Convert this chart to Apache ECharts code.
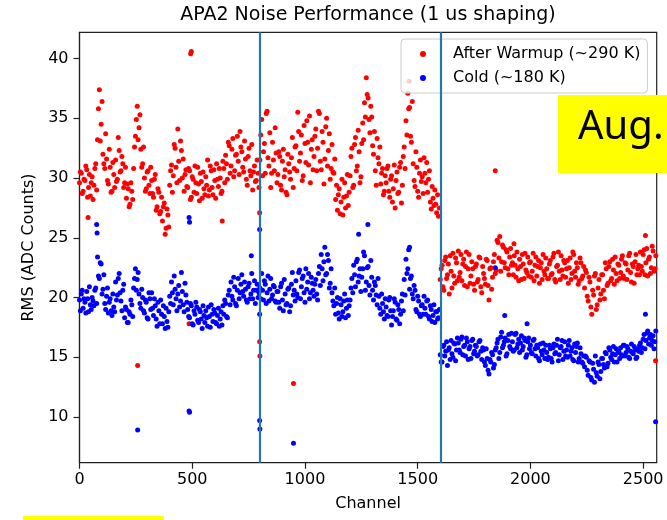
<!DOCTYPE html>
<html>
<head>
<meta charset="utf-8">
<script src="https://cdn.jsdelivr.net/npm/echarts@6/dist/echarts.min.js"></script>
<style>
  html, body { margin: 0; padding: 0; background: #fff; }
  #chart { width: 667px; height: 520px; }
</style>
</head>
<body>
<div id="chart"></div>
<script>
// channel spacing of the sampled readings below (A set starts at ch 0, B set at ch 4)
var channelStep = 8;

// After Warmup (~290 K), 10 values per line = 80 channels
var warmRmsA = [
  29.6, 30.4, 28.9, 29.8, 30.7, 29.2, 28.5, 30.1, 29.4, 31.2,
  33.2, 37.4, 34.5, 32.0, 30.8, 31.6, 29.5, 30.9, 28.9, 30.3,
  31.5, 29.9, 32.3, 30.6, 31.2, 29.6, 28.3, 29.1, 27.8, 28.9,
  30.8, 33.5, 36.0, 34.2, 32.4, 31.2, 30.0, 29.1, 30.6, 28.7,
  29.8, 28.4, 30.3, 27.6, 28.8, 27.2, 26.4, 27.9, 25.8, 26.9,
  29.4, 31.1, 30.2, 32.5, 29.6, 31.4, 33.1, 30.0, 28.9, 30.7,
  29.2, 30.6, 28.4, 29.9, 31.0, 28.7, 29.5, 30.4, 28.3, 29.1,
  30.1, 31.5, 29.0, 30.6, 28.6, 29.8, 31.2, 29.3, 30.0, 28.9,
  30.8, 31.9, 29.9, 32.7, 31.0, 33.3, 30.6, 32.0, 31.4, 33.9,
  32.2, 30.5, 31.6, 29.4, 32.5, 30.2, 29.0, 31.0, 29.8, 30.4,
  31.5, 34.9, 32.2, 30.4, 35.6, 31.0, 29.2, 33.0, 30.6, 32.1,
  30.3, 31.8, 29.0, 32.4, 30.7, 28.6, 31.2, 29.9, 33.4, 30.8,
  32.7, 35.5, 31.4, 33.6, 30.2, 32.9, 34.8, 31.1, 29.6, 33.2,
  31.8, 34.1, 32.5, 35.4, 30.7, 33.0, 31.6, 35.0, 32.3, 29.9,
  32.8, 30.4, 28.2, 27.3, 29.1, 28.0, 26.9, 29.6, 28.5, 27.7,
  30.2, 32.5, 29.4, 33.4, 31.0, 32.2, 30.1, 34.6, 36.3, 38.4,
  36.7, 33.8, 35.1, 32.0, 30.6, 33.3, 31.2, 29.5, 30.8, 28.9,
  29.6, 31.0, 28.4, 30.2, 29.1, 27.5, 30.5, 28.8, 31.3, 29.4,
  32.6, 34.8, 37.1, 35.9, 33.0, 31.2, 29.3, 30.9, 28.4, 31.5,
  30.1, 31.7, 29.6, 28.8, 30.6, 27.4, 28.3, 29.0, 27.1, 26.8,
  21.5, 22.7, 20.6, 23.4, 21.9, 20.3, 22.2, 23.7, 21.2, 22.9,
  23.9, 22.1, 21.4, 23.2, 22.6, 20.9, 23.6, 21.8, 22.4, 20.6,
  22.8, 21.5, 23.3, 20.4, 22.0, 21.1, 23.1, 19.8, 22.5, 21.7,
  23.6, 22.3, 24.6, 25.1, 23.0, 24.2, 22.5, 23.8, 21.9, 24.1,
  22.9, 23.5, 21.7, 22.4, 23.2, 21.5, 22.8, 23.7, 22.1, 21.8,
  23.0, 22.2, 21.4, 23.4, 22.6, 21.2, 22.9, 23.6, 21.9, 22.4,
  21.6, 23.1, 22.0, 23.7, 21.3, 22.7, 22.2, 23.5, 21.8, 22.9,
  22.4, 21.2, 23.3, 22.0, 23.6, 21.7, 22.5, 21.4, 22.9, 21.8,
  20.8, 22.1, 19.7, 21.3, 18.6, 20.2, 22.0, 19.4, 21.5, 20.3,
  21.9, 19.9, 22.4, 21.2, 23.0, 21.6, 22.3, 23.4, 21.4, 22.7,
  22.1, 23.5, 21.6, 22.8, 22.3, 23.7, 21.3, 22.6, 23.0, 21.9,
  22.7, 23.8, 22.2, 24.0, 22.9, 21.8, 23.4, 22.5, 23.9, 22.4
];
var warmRmsB = [
  30.5, 28.7, 29.9, 31.0, 28.4, 30.3, 29.6, 28.2, 30.8, 29.0,
  35.8, 33.1, 36.4, 31.2, 33.7, 29.8, 32.4, 28.8, 31.3, 29.2,
  29.7, 33.4, 30.5, 31.8, 29.2, 30.9, 29.5, 27.6, 29.6, 28.2,
  32.6, 34.9, 33.2, 35.3, 30.9, 32.6, 28.9, 30.5, 29.4, 30.9,
  28.7, 29.9, 27.3, 29.1, 27.0, 28.4, 27.6, 25.3, 27.4, 25.9,
  30.6, 28.8, 32.8, 30.9, 34.1, 29.8, 32.3, 31.6, 30.3, 29.3,
  30.8, 28.2, 30.1, 28.8, 29.6, 30.9, 28.1, 29.7, 30.5, 28.6,
  29.4, 28.5, 31.0, 29.2, 30.7, 28.3, 29.9, 30.8, 28.7, 31.4,
  29.6, 31.2, 33.0, 30.4, 32.4, 30.1, 31.9, 33.5, 30.3, 32.6,
  30.9, 33.1, 29.9, 31.8, 30.6, 32.8, 30.5, 29.7, 31.5, 29.2,
  33.6, 30.2, 32.9, 35.4, 31.7, 33.8, 30.4, 31.5, 34.2, 29.6,
  32.2, 29.4, 31.4, 30.1, 28.8, 32.0, 30.5, 31.7, 29.2, 32.6,
  30.6, 33.9, 32.1, 29.8, 34.4, 31.3, 33.0, 35.2, 32.4, 30.7,
  33.5, 30.6, 35.6, 31.4, 33.9, 29.5, 34.3, 31.0, 33.7, 30.8,
  30.5, 31.6, 29.4, 28.6, 27.0, 29.9, 28.4, 27.5, 30.3, 28.8,
  31.8, 29.2, 32.8, 30.6, 34.0, 29.6, 32.9, 33.2, 35.1, 37.0,
  34.9, 36.0, 32.7, 33.9, 29.4, 31.7, 32.6, 30.4, 28.6, 30.2,
  30.8, 28.9, 29.9, 28.0, 31.1, 29.8, 28.7, 30.9, 27.9, 31.8,
  30.8, 33.6, 35.8, 33.5, 36.4, 29.8, 32.2, 28.9, 30.4, 29.7,
  28.7, 30.4, 31.3, 29.9, 28.0, 29.3, 27.7, 27.8, 28.6, 27.5,
  22.4, 20.9, 23.1, 21.6, 22.8, 23.5, 20.8, 21.8, 23.3, 21.4,
  21.7, 23.6, 22.8, 21.0, 23.8, 22.4, 21.2, 23.0, 21.1, 22.6,
  21.3, 23.4, 20.9, 22.6, 21.6, 23.2, 21.0, 22.4, 20.7, 23.0,
  22.0, 24.8, 23.3, 22.2, 24.4, 22.9, 24.0, 22.4, 23.4, 22.7,
  21.9, 22.7, 23.8, 21.4, 22.6, 23.6, 21.6, 22.3, 23.4, 22.9,
  21.7, 23.7, 22.7, 21.8, 23.1, 22.5, 21.5, 22.2, 23.3, 21.6,
  22.8, 21.9, 23.4, 21.5, 22.6, 23.8, 21.5, 22.3, 23.1, 21.7,
  23.1, 22.5, 21.5, 23.8, 22.2, 22.9, 21.1, 23.3, 21.6, 22.6,
  22.3, 20.1, 21.7, 19.2, 20.6, 21.8, 19.0, 20.8, 19.8, 21.9,
  20.6, 22.9, 21.0, 22.6, 21.4, 23.2, 21.1, 22.0, 22.8, 21.6,
  23.2, 21.8, 22.9, 21.5, 23.5, 22.1, 22.8, 21.2, 23.6, 22.4,
  21.9, 22.6, 23.6, 21.9, 24.1, 23.2, 22.0, 24.3, 22.2, 23.5
];

// Cold (~180 K), same channel sampling
var coldRmsA = [
  19.8, 20.3, 19.1, 19.6, 20.5, 18.8, 19.4, 20.0, 19.3, 20.8,
  23.4, 21.6, 22.8, 20.7, 19.5, 20.1, 18.7, 19.9, 18.5, 19.2,
  21.3, 20.2, 22.0, 19.7, 20.6, 18.3, 19.0, 17.9, 18.6, 19.4,
  20.8, 22.4, 21.5, 20.3, 19.1, 20.0, 18.7, 19.6, 18.2, 19.9,
  20.4, 18.5, 19.3, 17.6, 18.9, 19.8, 17.8, 18.4, 19.1, 17.5,
  20.1, 21.3, 19.4, 20.7, 18.9, 21.0, 19.7, 20.5, 18.8, 20.2,
  19.0, 18.3, 19.3, 17.7, 18.6, 19.2, 17.9, 18.8, 17.4, 18.5,
  18.9, 17.6, 18.4, 19.4, 18.0, 18.7, 17.8, 19.1, 18.2, 17.7,
  18.6, 19.5, 18.3, 20.6, 21.3, 19.8, 20.9, 19.3, 21.6, 20.4,
  21.9, 20.1, 20.7, 19.6, 21.2, 20.3, 19.9, 21.4, 20.6, 20.0,
  20.8, 22.0, 19.8, 21.1, 20.4, 19.7, 21.6, 20.2, 20.9, 19.6,
  20.5, 19.1, 21.2, 18.9, 20.3, 19.5, 20.8, 19.3, 22.1, 20.6,
  21.4, 20.0, 22.3, 20.9, 21.8, 19.6, 20.7, 22.0, 20.4, 21.2,
  20.1, 21.5, 19.8, 22.6, 23.6, 21.4, 24.2, 22.0, 23.1, 21.2,
  20.4, 19.3, 18.6, 20.0, 18.2, 19.4, 18.8, 20.3, 19.1, 18.5,
  19.8, 21.6, 22.7, 20.9, 23.2, 21.8, 20.5, 22.4, 23.5, 21.3,
  22.6, 20.2, 21.7, 19.8, 21.0, 19.4, 20.1, 18.6, 19.5, 18.2,
  19.2, 18.4, 20.0, 17.7, 18.9, 19.6, 18.1, 19.0, 18.6, 20.3,
  21.5, 23.2, 22.4, 20.7, 21.8, 19.9, 20.6, 18.8, 19.7, 18.4,
  19.4, 20.1, 18.6, 19.8, 18.2, 19.0, 18.5, 17.9, 18.8, 18.3,
  15.2, 14.6, 16.0, 15.5, 14.3, 15.8, 16.4, 15.0, 16.1, 15.6,
  16.2, 15.4, 16.7, 15.9, 15.1, 16.3, 15.7, 14.9, 16.5, 15.5,
  15.9, 15.2, 16.4, 14.8, 15.6, 14.3, 14.9, 13.6, 14.6, 15.2,
  14.4, 15.8, 16.5, 15.4, 17.1, 16.0, 16.6, 15.3, 16.9, 15.7,
  16.3, 15.6, 17.0, 16.1, 15.4, 16.8, 15.9, 16.4, 15.2, 16.6,
  16.0, 15.3, 16.5, 15.1, 15.8, 14.7, 15.5, 16.2, 14.9, 15.4,
  15.0, 15.7, 14.6, 16.1, 15.4, 16.5, 15.2, 15.9, 14.8, 16.3,
  15.6, 16.0, 15.1, 15.8, 14.7, 15.4, 16.2, 14.9, 15.3, 14.5,
  14.2, 15.0, 13.5, 14.6, 13.1, 14.0, 15.1, 13.4, 14.4, 13.8,
  14.9, 14.1, 15.3, 14.5, 15.6, 14.8, 15.9, 15.2, 14.6, 15.5,
  15.8, 15.1, 16.0, 15.4, 15.7, 14.9, 16.1, 15.3, 15.6, 15.0,
  15.5, 16.2, 15.8, 16.9, 16.4, 17.2, 16.6, 16.0, 16.8, 16.3
];
var coldRmsB = [
  18.9, 20.6, 19.9, 18.7, 19.9, 20.9, 19.0, 19.7, 20.6, 19.5,
  21.8, 22.9, 20.3, 21.9, 19.0, 20.8, 19.6, 18.9, 20.3, 18.8,
  19.8, 21.6, 20.4, 18.9, 21.1, 19.2, 17.9, 18.8, 19.8, 18.4,
  21.6, 20.6, 22.1, 19.5, 20.7, 18.9, 19.8, 18.3, 20.4, 19.0,
  19.1, 19.9, 18.2, 19.6, 17.8, 18.6, 19.3, 17.4, 18.0, 18.8,
  19.5, 20.4, 21.8, 19.9, 20.3, 19.2, 22.1, 19.4, 21.2, 19.6,
  18.4, 19.5, 17.8, 18.9, 19.6, 18.1, 19.0, 18.2, 19.3, 17.9,
  18.3, 19.2, 17.5, 18.6, 19.0, 17.9, 18.5, 17.6, 18.8, 19.3,
  19.8, 18.4, 20.2, 19.4, 20.1, 21.7, 19.5, 20.6, 19.9, 21.1,
  20.5, 21.3, 19.8, 20.9, 19.9, 22.0, 20.6, 19.5, 21.1, 20.4,
  19.9, 20.6, 21.4, 19.5, 21.8, 20.7, 19.9, 21.0, 19.7, 20.5,
  19.6, 20.9, 19.8, 21.5, 19.4, 20.7, 18.8, 21.1, 20.2, 19.7,
  20.3, 22.1, 19.9, 21.6, 20.4, 22.4, 21.3, 19.9, 21.7, 20.6,
  21.1, 20.3, 22.0, 21.0, 22.4, 23.0, 21.9, 23.6, 20.8, 22.4,
  19.7, 20.8, 19.5, 18.7, 19.9, 18.4, 19.7, 18.3, 19.8, 19.3,
  20.8, 20.4, 21.9, 23.0, 21.3, 22.4, 21.7, 23.8, 20.6, 22.5,
  21.0, 23.1, 20.6, 21.3, 20.2, 21.6, 19.1, 20.3, 18.8, 19.9,
  18.5, 19.8, 18.9, 18.4, 19.9, 18.2, 19.4, 17.8, 19.7, 18.9,
  20.2, 22.0, 24.0, 21.6, 20.3, 21.0, 19.0, 20.1, 18.6, 19.3,
  18.6, 19.1, 19.7, 18.4, 19.3, 18.0, 19.4, 18.8, 18.2, 19.0,
  14.6, 15.9, 15.1, 16.3, 15.6, 14.8, 15.3, 16.2, 14.7, 16.6,
  15.6, 16.5, 15.2, 16.0, 16.6, 14.8, 15.9, 16.4, 15.3, 16.0,
  15.1, 16.3, 15.5, 15.8, 14.6, 15.7, 13.9, 14.8, 15.4, 14.1,
  15.6, 16.2, 14.9, 16.7, 15.8, 16.3, 15.1, 16.4, 15.9, 17.0,
  15.5, 16.9, 15.8, 16.5, 16.2, 15.6, 16.6, 15.0, 16.3, 15.7,
  15.4, 16.4, 15.7, 16.0, 14.9, 16.1, 15.2, 15.6, 16.0, 14.8,
  16.0, 14.9, 15.8, 15.3, 16.0, 14.7, 15.8, 16.4, 15.5, 15.1,
  15.0, 16.4, 15.5, 14.8, 16.1, 15.9, 14.6, 15.8, 14.6, 15.1,
  15.1, 13.9, 14.7, 13.3, 14.5, 12.9, 13.7, 14.6, 13.2, 14.9,
  14.4, 15.4, 14.2, 15.8, 15.0, 15.3, 14.6, 15.7, 15.4, 14.9,
  15.2, 16.0, 15.1, 15.9, 15.0, 15.5, 15.4, 15.9, 14.9, 15.7,
  16.0, 15.4, 16.5, 15.7, 17.0, 16.1, 16.9, 16.4, 15.7, 17.2
];

// stray channels away from the bands: [channel, rms]
var warmOutliers = [
  [38, 26.7], [258, 14.3], [486, 17.8], [493, 40.4], [496, 40.6],
  [633, 26.4], [799, 27.1], [799, 16.3], [800, 15.1], [949, 12.8],
  [1462, 38.1], [1844, 30.6], [1927, 24.5], [2510, 25.2], [2555, 14.7]
];
var coldOutliers = [
  [76, 26.1], [78, 25.4], [258, 8.9], [486, 26.7], [488, 26.3],
  [486, 10.5], [488, 10.4], [762, 23.5], [799, 25.7], [799, 18.6],
  [799, 9.7], [800, 9.0], [949, 7.8], [1238, 25.3], [1279, 26.1],
  [1464, 24.2], [1844, 22.5], [1886, 18.5], [1985, 17.8], [2510, 18.6],
  [2555, 9.6]
];

// APA boundaries
var boundaries = [800, 1600];
var xTicks = [0, 500, 1000, 1500, 2000, 2500];
var yTicks = [10, 15, 20, 25, 30, 35, 40];

function toPoints(values, offset) {
  var pts = [];
  for (var i = 0; i < values.length; i++) {
    pts.push([i * channelStep + offset, values[i]]);
  }
  return pts;
}

var font = 'DejaVu Sans';
var chart = echarts.init(document.getElementById('chart'), null, { renderer: 'canvas' });

var option = {
  animation: false,
  backgroundColor: '#fff',
  title: {
    text: 'APA2 Noise Performance (1 us shaping)',
    left: 368,
    textAlign: 'center',
    top: 6,
    padding: 0,
    textStyle: { fontFamily: font, fontSize: 19, fontWeight: 'normal', color: '#000' }
  },
  legend: {
    orient: 'vertical',
    left: 401,
    top: 39,
    padding: [6, 7, 6, 19],
    itemGap: 6,
    itemWidth: 6,
    itemHeight: 6,
    icon: 'circle',
    backgroundColor: 'rgba(255,255,255,0.8)',
    borderColor: '#cccccc',
    borderWidth: 1,
    borderRadius: 4,
    textStyle: {
      fontFamily: font, fontSize: 16, color: '#000',
      lineHeight: 18, padding: [0, 0, 0, 22]
    },
    data: ['After Warmup (~290 K)', 'Cold (~180 K)']
  },
  grid: {
    left: 79.5, right: 10.3, top: 32.3, bottom: 57.3,
    show: true, borderColor: '#222', borderWidth: 1.2,
    backgroundColor: 'transparent'
  },
  xAxis: {
    type: 'value',
    min: 0, max: 2560,
    name: 'Channel',
    nameLocation: 'middle',
    nameGap: 33,
    nameTextStyle: { fontFamily: font, fontSize: 16, color: '#000' },
    axisLine: { show: true, lineStyle: { color: '#222', width: 1.2 } },
    axisTick: { show: true, length: 6, customValues: xTicks, lineStyle: { color: '#222', width: 1.2 } },
    axisLabel: {
      customValues: xTicks, margin: 9, fontFamily: font, fontSize: 16, color: '#000',
      formatter: function (v) { return String(v); }
    },
    splitLine: { show: false }
  },
  yAxis: {
    type: 'value',
    min: 6.17, max: 42.2,
    name: 'RMS (ADC Counts)',
    nameLocation: 'middle',
    nameGap: 39,
    nameTextStyle: { fontFamily: font, fontSize: 16, color: '#000' },
    axisLine: { show: true, lineStyle: { color: '#222', width: 1.2 } },
    axisTick: { show: true, length: 6, customValues: yTicks, lineStyle: { color: '#222', width: 1.2 } },
    axisLabel: {
      customValues: yTicks, margin: 11, fontFamily: font, fontSize: 16, color: '#000',
      formatter: function (v) { return String(v); }
    },
    splitLine: { show: false }
  },
  graphic: [
    {
      type: 'rect', z: 100,
      shape: { x: 558, y: 95, width: 120, height: 78 },
      style: { fill: '#ffff00' }
    },
    {
      type: 'text', z: 101,
      x: 578, y: 108,
      style: { text: 'Aug.', fill: '#000', font: '40px "Noto Sans"' }
    },
    {
      type: 'rect', z: 100,
      shape: { x: 23, y: 516, width: 141, height: 6 },
      style: { fill: '#ffff00' }
    }
  ],
  series: [
    {
      name: 'After Warmup (~290 K)',
      type: 'scatter',
      symbolSize: 5,
      itemStyle: { color: '#ff0000', opacity: 1 },
      data: toPoints(warmRmsA, 0).concat(toPoints(warmRmsB, 4), warmOutliers),
      z: 2
    },
    {
      name: 'Cold (~180 K)',
      type: 'scatter',
      symbolSize: 5,
      itemStyle: { color: '#0000ff', opacity: 1 },
      data: toPoints(coldRmsA, 0).concat(toPoints(coldRmsB, 4), coldOutliers),
      z: 2
    },
    {
      name: 'boundaries',
      type: 'scatter',
      data: [],
      z: 3,
      markLine: {
        silent: true,
        symbol: 'none',
        label: { show: false },
        lineStyle: { color: '#1f77b4', width: 2.2, type: 'solid', opacity: 1 },
        data: boundaries.map(function (b) { return { xAxis: b }; })
      }
    }
  ]
};

chart.setOption(option);
</script>
</body>
</html>
